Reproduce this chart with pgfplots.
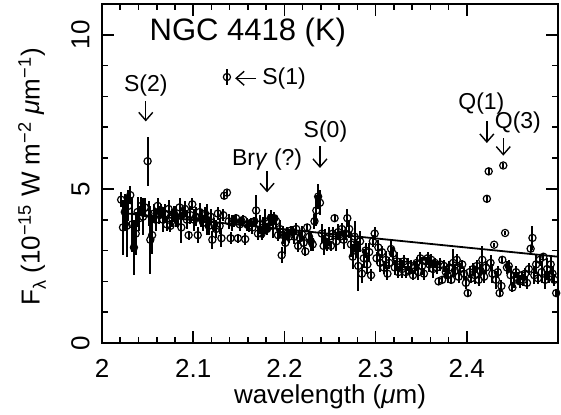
\documentclass[border=0pt]{standalone}
\usepackage{pgfplots}
\usepackage{pgfplotstable}
\pgfplotsset{compat=1.18}
\usepackage{fontspec}
\setmainfont{Liberation Sans}
\usetikzlibrary{arrows.meta}
\pgfplotstableread{
x y e
2.021 4.65 0.25
2.023 3.75 0.90
2.025 4.25 0.60
2.027 3.80 1.00
2.029 4.45 0.50
2.031 4.80 0.30
2.033 3.85 0.90
2.035 3.10 0.90
2.037 3.55 0.70
2.039 4.25 0.50
2.041 4.05 0.40
2.043 4.45 0.30
2.045 4.10 0.60
2.047 4.40 0.30
2.050 5.90 0.80
2.051 4.20 0.40
2.053 3.35 1.10
2.055 3.50 0.60
2.057 4.20 0.30
2.059 4.00 0.35
2.061 4.45 0.25
2.063 4.15 0.30
2.065 4.30 0.20
2.067 4.00 0.40
2.069 4.20 0.30
2.071 3.85 0.20
2.073 4.35 0.30
2.075 3.80 0.20
2.077 4.05 0.30
2.079 4.20 0.25
2.081 4.10 0.35
2.083 3.95 0.20
2.085 4.40 0.30
2.087 3.75 0.50
2.089 4.20 0.20
2.091 4.35 0.25
2.093 4.00 0.30
2.095 3.50 0.15
2.097 4.15 0.30
2.099 4.50 0.20
2.101 4.00 0.35
2.103 4.10 0.30
2.105 3.50 0.25
2.107 4.25 0.30
2.109 4.05 0.30
2.111 3.90 0.25
2.113 4.20 0.20
2.115 4.00 0.50
2.117 3.80 0.30
2.119 4.10 0.25
2.121 3.35 0.30
2.123 3.85 0.20
2.125 3.70 0.30
2.127 4.20 0.20
2.129 3.80 0.25
2.131 3.40 0.30
2.133 4.15 0.20
2.134 4.78 0.10
2.137 4.88 0.10
2.137 8.63 0.25
2.139 3.95 0.25
2.141 3.40 0.20
2.143 3.90 0.25
2.145 3.95 0.20
2.147 4.05 0.15
2.149 3.40 0.15
2.151 3.85 0.20
2.153 3.95 0.15
2.155 4.00 0.15
2.157 3.37 0.20
2.159 3.85 0.20
2.161 3.80 0.20
2.163 3.90 0.15
2.165 3.75 0.20
2.167 3.95 0.15
2.169 4.30 0.50
2.171 3.55 0.20
2.173 3.85 0.30
2.175 3.55 0.20
2.177 3.75 0.35
2.179 3.95 0.40
2.181 3.70 0.20
2.183 3.90 0.30
2.185 4.05 0.25
2.187 3.80 0.40
2.189 4.05 0.20
2.191 3.95 0.20
2.193 3.50 0.20
2.195 3.70 0.30
2.197 2.85 0.25
2.199 3.50 0.30
2.201 3.25 0.35
2.203 3.55 0.20
2.205 3.45 0.20
2.207 3.65 0.15
2.209 3.60 0.20
2.211 3.45 0.25
2.213 3.70 0.20
2.215 3.15 0.20
2.217 3.40 0.20
2.219 3.55 0.25
2.221 3.25 0.20
2.223 2.97 0.15
2.225 3.75 0.10
2.227 3.45 0.20
2.229 3.30 0.30
2.231 3.20 0.20
2.233 3.95 0.25
2.235 4.30 0.50
2.237 4.75 0.40
2.239 4.55 0.40
2.241 3.55 0.30
2.243 3.15 0.30
2.245 3.40 0.30
2.247 3.20 0.20
2.249 3.45 0.30
2.251 3.15 0.15
2.253 3.55 0.20
2.255 4.05 0.10
2.257 3.30 0.30
2.259 3.60 0.25
2.261 3.45 0.20
2.263 3.70 0.20
2.265 3.35 0.30
2.267 3.55 0.20
2.269 4.05 0.30
2.271 3.70 0.30
2.273 3.20 0.40
2.275 2.80 0.40
2.277 3.45 0.50
2.279 3.05 0.30
2.281 2.50 0.80
2.283 3.30 0.35
2.285 2.25 0.30
2.287 2.75 0.30
2.289 3.00 0.25
2.291 2.55 0.30
2.293 2.95 0.30
2.295 2.20 0.20
2.297 3.30 0.20
2.299 3.55 0.20
2.301 2.75 0.20
2.303 3.10 0.25
2.305 2.60 0.30
2.307 2.95 0.20
2.309 2.45 0.20
2.311 2.70 0.30
2.313 2.25 0.20
2.315 2.60 0.20
2.317 3.05 0.25
2.319 2.90 0.20
2.321 2.45 0.25
2.323 2.65 0.30
2.325 2.30 0.20
2.327 2.55 0.20
2.329 2.40 0.30
2.331 2.65 0.20
2.333 2.30 0.20
2.335 2.55 0.20
2.337 2.35 0.15
2.339 2.50 0.20
2.341 2.20 0.15
2.343 2.45 0.20
2.345 2.60 0.20
2.347 2.30 0.25
2.349 2.75 0.20
2.351 2.50 0.30
2.353 2.25 0.20
2.355 2.65 0.15
2.357 2.75 0.20
2.359 2.55 0.25
2.361 2.70 0.20
2.363 2.40 0.30
2.365 2.60 0.15
2.367 2.45 0.20
2.369 2.00 0.10
2.371 2.55 0.20
2.373 2.05 0.10
2.375 2.50 0.20
2.377 2.30 0.20
2.379 2.20 0.25
2.381 2.45 0.20
2.383 2.05 0.15
2.385 2.60 0.45
2.387 2.35 0.20
2.389 2.70 0.20
2.391 2.15 0.20
2.393 2.40 0.20
2.395 2.55 0.15
2.397 2.25 0.20
2.399 1.95 0.20
2.401 1.62 0.10
2.403 2.30 0.20
2.405 2.10 0.15
2.407 2.40 0.20
2.409 2.20 0.30
2.411 2.50 0.20
2.413 2.05 0.20
2.415 2.35 0.20
2.417 2.70 0.45
2.419 2.15 0.20
2.421 2.45 0.20
2.422 4.68 0.12
2.424 5.57 0.12
2.426 2.60 0.25
2.428 2.25 0.30
2.430 3.19 0.06
2.432 2.05 0.30
2.434 2.30 0.20
2.436 1.62 0.10
2.438 1.85 0.20
2.439 2.70 0.10
2.440 5.76 0.08
2.442 3.57 0.08
2.444 2.45 0.20
2.446 2.50 0.20
2.448 2.20 0.30
2.450 1.80 0.15
2.452 2.05 0.25
2.454 2.30 0.20
2.456 2.10 0.20
2.458 2.00 0.20
2.460 2.20 0.15
2.462 2.05 0.20
2.464 2.25 0.20
2.466 1.95 0.20
2.468 2.40 0.20
2.470 3.06 0.10
2.472 3.41 0.38
2.474 2.20 0.30
2.476 2.55 0.30
2.478 2.10 0.20
2.480 2.70 0.20
2.482 2.30 0.35
2.484 2.80 0.10
2.486 2.05 0.30
2.488 2.40 0.35
2.490 2.15 0.20
2.492 2.55 0.30
2.494 2.25 0.25
2.496 2.05 0.20
2.498 1.62 0.10
}\spec
\begin{document}
\begin{tikzpicture}
\begin{axis}[
  scale only axis, width=228pt, height=169.5pt,
  xmin=2, xmax=2.5, ymin=0, ymax=11,
  xtick={2,2.1,2.2,2.3,2.4}, xticklabels={2,2.1,2.2,2.3,2.4},
  minor x tick num=4,
  ytick={0,5,10}, yticklabels={0,5,10}, minor y tick num=4,
  /pgf/number format/assume math mode=true,
  tick align=inside,
  major tick length=6pt, minor tick length=3pt,
  every tick/.style={black, line width=0.8pt},
  axis line style={line width=1pt},
  ticklabel style={font=\fontsize{13}{15}\selectfont},
  xticklabel style={inner sep=0pt, anchor=north},
  xticklabel shift=8pt,
  yticklabel style={rotate=90, anchor=south, inner sep=0pt},
  yticklabel shift=6pt,
  xlabel={wavelength (\textit{μ}m)},
  xlabel style={at={(axis description cs:0.5,-0.159)}, anchor=center, font=\fontsize{13}{15}\selectfont},
  ylabel={F\raisebox{-0.45ex}{\fontsize{9}{10}\selectfont λ} (10\textsuperscript{−15} W m\textsuperscript{−2} \textit{μ}m\textsuperscript{−1})},
  ylabel style={at={(axis description cs:-0.1535,0.49)}, anchor=center, font=\fontsize{13}{15}\selectfont},
]
\addplot[only marks, mark=o, mark size=1.8pt, mark options={line width=0.6pt, black}, black,
  error bars/.cd, y dir=both, y explicit, error mark=none,
  error bar style={line width=1pt, black}]
  table[x=x, y=y, y error=e] {\spec};
\addplot[black, line width=0.9pt] coordinates {(2.022,4.22) (2.5,2.80)};
\node[font=\fontsize{15.5}{17}\selectfont] at (axis cs:2.16,10.09) {NGC 4418 (K)};
\tikzset{ann/.style={font=\fontsize{11.5}{13}\selectfont}, arr/.style={line width=0.7pt, -{Straight Barb[length=4pt,width=7pt]}}}
\node[ann] at (axis cs:2.048,8.34) {S(2)};
\draw[arr] (axis cs:2.048,7.84) -- (axis cs:2.048,7.19);
\draw[arr] (axis cs:2.169,8.59) -- (axis cs:2.146,8.59);
\node[ann, anchor=west] at (axis cs:2.168,8.59) {S(1)};
\node[ann] at (axis cs:2.181,5.95) {Br\textit{γ} (?)};
\draw[arr] (axis cs:2.181,5.57) -- (axis cs:2.181,4.89);
\node[ann] at (axis cs:2.245,6.86) {S(0)};
\draw[arr] (axis cs:2.239,6.38) -- (axis cs:2.239,5.68);
\node[ann] at (axis cs:2.416,7.76) {Q(1)};
\draw[arr] (axis cs:2.422,7.19) -- (axis cs:2.422,6.49);
\node[ann] at (axis cs:2.456,7.16) {Q(3)};
\draw[arr] (axis cs:2.440,6.65) -- (axis cs:2.440,6.08);
\end{axis}
\pgfresetboundingbox
\path ([shift={(-51pt,-35.5pt)}]current axis.south west) rectangle ([shift={(1.5pt,2pt)}]current axis.north east);
\end{tikzpicture}
\end{document}
